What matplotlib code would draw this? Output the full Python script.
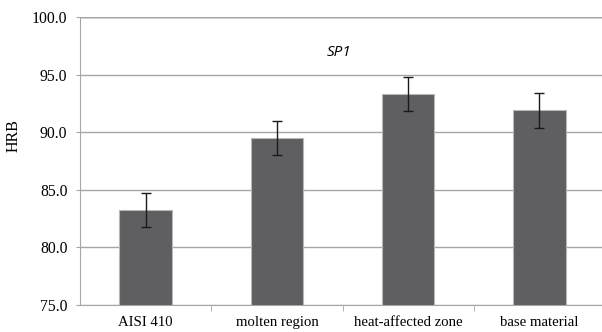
import matplotlib
matplotlib.use("Agg")
import matplotlib.pyplot as plt
import numpy as np

categories = ["AISI 410", "molten region", "heat-affected zone", "base material"]
hrb = [83.25, 89.5, 93.3, 91.9]
hrb_err = [1.5, 1.5, 1.5, 1.5]
yticks = [75.0, 80.0, 85.0, 90.0, 95.0, 100.0]

BAR = "#5f5f61"
GRID = "#a6a6a6"
SERIF = "Liberation Serif"

fig = plt.figure(figsize=(6.02, 3.32), dpi=100)
ax = fig.add_axes([80 / 602, 27 / 332, 525 / 602, 288 / 332])

x = np.arange(len(categories))
ax.bar(x, hrb, width=0.4, color=BAR, edgecolor="#b8b8b8", linewidth=0.8, zorder=3)
ax.errorbar(x, hrb, yerr=hrb_err, fmt="none", ecolor="#1a1a1a",
            elinewidth=1.0, capsize=3.5, capthick=1.0, zorder=4)

ax.set_xlim(-0.5, len(categories) - 0.5)
ax.set_ylim(75, 100)
ax.set_yticks(yticks)
ax.set_yticklabels([f"{v:.1f}" for v in yticks], fontsize=11.3, family=SERIF)
ax.set_xticks(x)
ax.set_xticklabels(categories, fontsize=10.6, family=SERIF)
ax.tick_params(axis="x", length=0, pad=8)
ax.tick_params(axis="y", length=3, color=GRID, pad=6)

# category separators below the axis, spreadsheet style
ax.set_xticks(x[:-1] + 0.5, minor=True)
ax.tick_params(axis="x", which="minor", length=4, color=GRID, direction="out")

ax.grid(axis="y", color=GRID, linewidth=1.0, zorder=0)
ax.grid(axis="x", visible=False)
for side in ["top", "right"]:
    ax.spines[side].set_visible(False)
ax.spines["left"].set_color(GRID)
ax.spines["bottom"].set_color(GRID)
ax.axhline(100, color="#555555", linewidth=1.0, zorder=1)

ax.set_ylabel("HRB", fontsize=11.5, family=SERIF)
ax.yaxis.set_label_coords(-0.112, 0.59)
ax.text(1.47, 96.9, "SP1", fontsize=11, style="italic", family="Open Sans",
        ha="center", va="center")

fig.savefig("out.png", dpi=100)
